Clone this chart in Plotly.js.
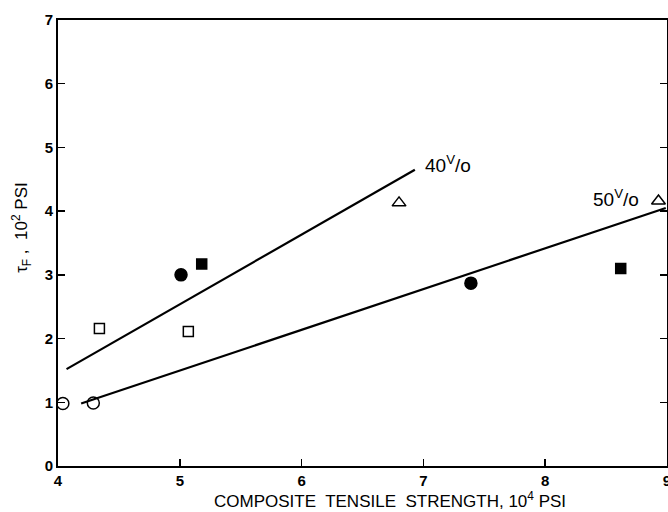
<!DOCTYPE html>
<html>
<head>
<meta charset="utf-8">
<script src="https://cdn.plot.ly/plotly-3.0.1.min.js"></script>
<style>html,body{margin:0;padding:0;background:#fff;}#chart{width:668px;height:512px;}</style>
</head>
<body>
<div id="chart"></div>
<script>
// Data
const openCircleX = [4.04, 4.29];
const openCircleY = [0.98, 0.99];
const openSquareX = [4.34, 5.07];
const openSquareY = [2.16, 2.11];
const filledCircleX = [5.01, 7.39];
const filledCircleY = [3.00, 2.87];
const filledSquareX = [5.18, 8.62];
const filledSquareY = [3.17, 3.10];
const triangleX = [6.80, 8.93];
const triangleY = [4.13, 4.16];
const line40X = [4.07, 6.93];
const line40Y = [1.52, 4.65];
const line50X = [4.19, 8.99];
const line50Y = [0.98, 4.05];
const labelText = ["40<sup>V</sup>/o", "50<sup>V</sup>/o"];
const labelX = [7.2, 8.58];
const labelY = [4.74, 4.2];
const xTicks = [4, 5, 6, 7, 8, 9];
const yTicks = [0, 1, 2, 3, 4, 5, 6, 7];
const xTitle = 'COMPOSITE  TENSILE  STRENGTH, 10<sup>4</sup> PSI';
const yTitle = 'τ<sub>F</sub> ,  10<sup>2</sup> PSI';

const black = '#000';
function pts(x, y, symbol, size) {
  return {x: x, y: y, mode: 'markers', type: 'scatter', showlegend: false, cliponaxis: false,
    marker: {symbol: symbol, size: size, color: black, line: {color: black, width: 1.5}}};
}
function ln(x, y) {
  return {x: x, y: y, mode: 'lines', type: 'scatter', showlegend: false, cliponaxis: false,
    line: {color: black, width: 2.2}};
}
const data = [
  ln(line40X, line40Y),
  ln(line50X, line50Y),
  pts(openCircleX, openCircleY, 'circle-open', 12),
  pts(openSquareX, openSquareY, 'square-open', 10),
  pts(filledCircleX, filledCircleY, 'circle', 12),
  pts(filledSquareX, filledSquareY, 'square', 10),
  pts(triangleX, triangleY, 'triangle-up-open', 12)
];
const tickFont = {size: 15, family: 'Liberation Sans, Arial, sans-serif', weight: 'bold', color: black};
const annotations = labelText.map((t, i) => ({
  x: labelX[i], y: labelY[i], xref: 'x', yref: 'y', text: t, showarrow: false,
  font: {size: 19, color: black}
}));
annotations.push({
  x: 0.545, y: -0.076, xref: 'paper', yref: 'paper', text: xTitle, showarrow: false,
  yanchor: 'middle', xanchor: 'center', font: {size: 17, color: black}
});
annotations.push({
  x: -0.06, y: 0.535, xref: 'paper', yref: 'paper', text: yTitle, showarrow: false,
  textangle: -90, yanchor: 'middle', xanchor: 'center', font: {size: 17, color: black}
});
const layout = {
  width: 668, height: 512,
  margin: {l: 58, r: 1, t: 20, b: 46},
  paper_bgcolor: '#fff', plot_bgcolor: '#fff',
  font: {family: 'Liberation Sans, Arial, sans-serif', color: black},
  xaxis: {
    range: [4, 9], tickvals: xTicks, ticktext: xTicks.map(String),
    ticks: 'inside', ticklen: 7, tickwidth: 1.5, tickcolor: black,
    showline: true, linecolor: black, linewidth: 2, mirror: true,
    showgrid: false, zeroline: false, ticklabeloverflow: 'allow',
    tickfont: tickFont
  },
  yaxis: {
    range: [0, 7], tickvals: yTicks, ticktext: yTicks.map(String),
    ticks: 'inside', ticklen: 7, tickwidth: 1.5, tickcolor: black,
    showline: true, linecolor: black, linewidth: 2, mirror: 'ticks',
    showgrid: false, zeroline: false, ticklabeloverflow: 'allow',
    tickfont: tickFont
  },
  annotations: annotations
};
Plotly.newPlot('chart', data, layout, {displayModeBar: false, staticPlot: true});
</script>
</body>
</html>
